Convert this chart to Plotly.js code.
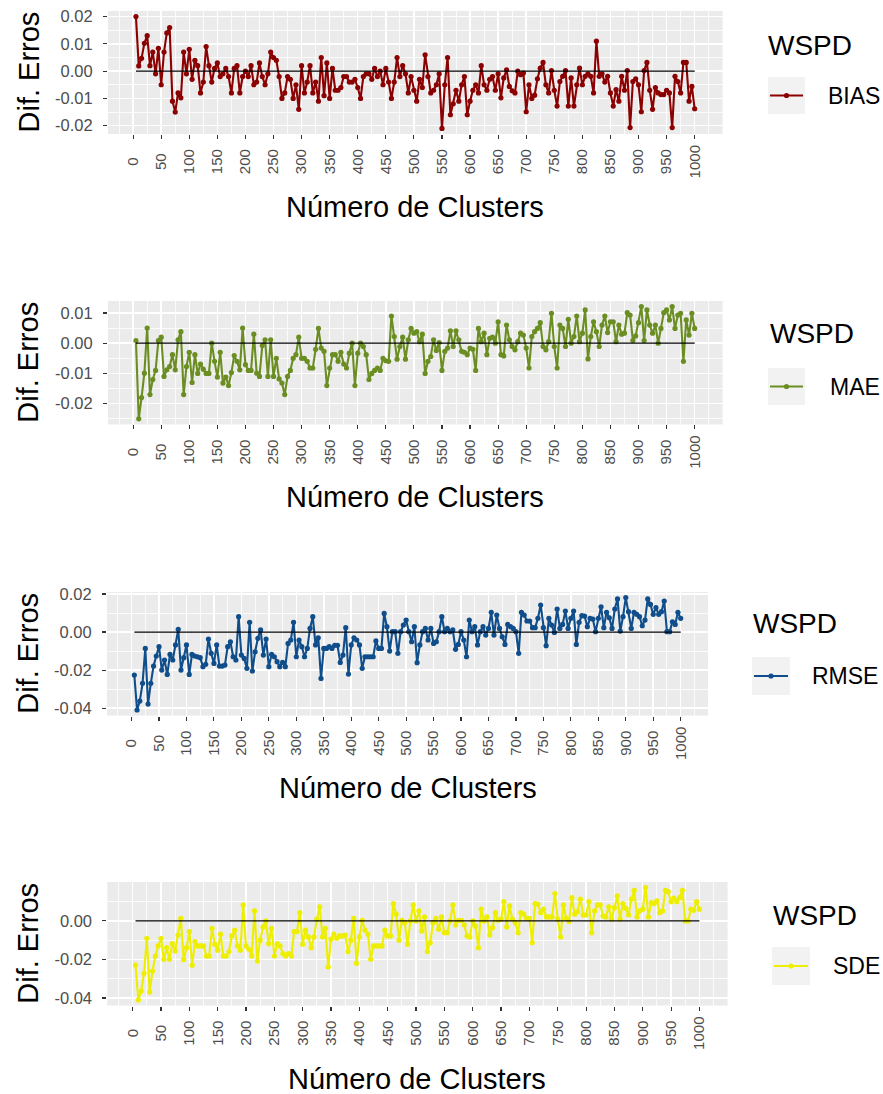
<!DOCTYPE html>
<html>
<head>
<meta charset="utf-8">
<script src="https://cdn.plot.ly/plotly-3.0.1.min.js"></script>
<style>
  html, body { margin: 0; padding: 0; background: #ffffff; }
  #chart { width: 883px; height: 1094px; }
</style>
</head>
<body>
<div id="chart"></div>
<script>
// Diferença de erros de WSPD por número de clusters (5 a 1000, passo 5)
const clusters = [];
for (let n = 5; n <= 1000; n += 5) clusters.push(n);

const bias = [
  0.020, 0.0019, 0.0047, 0.0102, 0.013, 0.002, 0.007, -0.001, 0.0084, -0.005,
  0.007, 0.014, 0.016, -0.011, -0.015, -0.008, -0.0098, 0.007, -0.001, 0.008,
  -0.003, 0.004, 0.002, -0.008, -0.004, 0.009, 0.002, -0.004, 0.001, 0.003,
  -0.002, -0.001, 0.001, -0.002, -0.008, 0.001, 0.002, -0.008, -0.002, 0.000,
  -0.002, 0.002, -0.005, -0.004, 0.003, -0.002, -0.005, -0.001, 0.007, 0.005,
  0.004, -0.002, -0.010, -0.008, -0.002, -0.003, -0.010, -0.005, -0.014, 0.002,
  -0.008, -0.004, 0.002, -0.008, -0.004, -0.011,
  0.005, -0.009, 0.003, -0.010, 0.001, -0.007, -0.007, -0.006, -0.002, -0.002,
  -0.004, -0.004, -0.003, -0.006, -0.010, -0.002, -0.001, -0.001, -0.003, 0.001,
  -0.002, 0.000, -0.005, 0.001, -0.004, -0.010, -0.004, 0.005, -0.002, 0.002,
  -0.001, -0.008, -0.002, -0.007, -0.011, -0.003, -0.006, 0.006, -0.002, -0.008,
  -0.007, -0.005, -0.001, -0.021, -0.005, 0.005, -0.016, -0.012, -0.007, -0.011,
  -0.005, -0.002, -0.016, -0.011, -0.007, -0.005, -0.008, 0.002, -0.005, -0.007,
  -0.003, -0.002, -0.007, -0.001,
  -0.0098, -0.0025, 0.0005, -0.0056, -0.0072, -0.008, 0.000, -0.0013, -0.0007, -0.0149,
  -0.005, -0.010, -0.0088, -0.0028, 0.0011, 0.0032, -0.005, -0.008, 0.0002, -0.007,
  -0.0128, -0.0038, -0.0019, 0.0002, -0.0128, -0.0025, -0.0128, -0.005, 0.0011, -0.005,
  -0.0019, -0.001, -0.0019, -0.008, 0.011, -0.0019, -0.001, -0.004, -0.0019, -0.008,
  -0.0128, -0.0068, -0.011, -0.0019, -0.007, 0.0002, -0.0207, -0.0038, -0.0028, -0.005,
  -0.0149, 0.0002, 0.0032, -0.007, -0.014, -0.006, -0.008, -0.0086, -0.0086, -0.007,
  -0.008, -0.0207, -0.0019, -0.0038, -0.008, 0.0032, 0.0032, -0.011, -0.0056, -0.0138
];

const mae = [
  0.0009, -0.025, -0.018, -0.0099, 0.005, -0.017, -0.012, -0.009, 0.0009, 0.002,
  -0.011, -0.0088, -0.0077, -0.0038, -0.0088, 0.0011, 0.0038, -0.017, -0.0077, -0.003,
  -0.013, -0.0038, -0.010, -0.0069, -0.0086, -0.010, -0.010, 0.000, -0.006, -0.0112,
  -0.003, -0.0132, -0.0112, -0.014, -0.0097, -0.0041, -0.006, -0.0088, 0.005, -0.0071,
  -0.009, -0.009, 0.003, -0.0099, -0.011, -0.0008, 0.0011, -0.011, 0.0011, -0.011,
  -0.005, -0.0118, -0.0132, -0.017, -0.011, -0.009, -0.005, -0.0038, 0.002, -0.005,
  -0.005, -0.006,
  -0.0082, -0.0082, -0.002, 0.0049, -0.0016, -0.0027, -0.014, -0.0082, -0.0038, -0.0038,
  -0.006, -0.003, -0.0069, -0.0082, -0.0033, 0.000, -0.014, -0.0033, 0.000, -0.0011,
  -0.0038, -0.012, -0.010, -0.009, -0.0082, -0.009, -0.005, -0.0058, -0.006, 0.009,
  0.0022, -0.0053, -0.0011, 0.002, -0.0053, 0.0011, 0.0049, 0.0033, 0.0038, 0.0005,
  0.003, -0.010, -0.006, -0.0044, 0.0011, -0.0024, 0.0002, -0.009, -0.0027, -0.0016,
  0.0041, -0.0011, 0.0041, 0.0011, -0.0027, -0.003, -0.0038, -0.0016, -0.002, -0.009,
  0.0049, 0.0005, 0.0033, -0.0038, 0.0016, 0.002, 0.000,
  0.0071, -0.0038, -0.0042, 0.006, 0.0011, -0.0011, -0.0022, 0.0005, 0.0033, 0.0027,
  -0.0016, -0.0082, 0.0022, 0.0038, 0.0049, 0.0068, -0.0011, -0.0022, 0.0005, 0.0099,
  -0.0011, -0.0082, 0.006, 0.0049, -0.0011, 0.0079, 0.000, 0.0022, 0.009, 0.0005,
  0.0033, 0.011, -0.0052, 0.0022, 0.0071, 0.0038, -0.0011, 0.006, 0.009, 0.0035,
  0.0071, 0.0071, 0.0005, 0.006, 0.003, 0.0033, 0.0101, 0.0093, 0.0009, 0.0024,
  0.0068, 0.0121, 0.0009, 0.011, 0.006, 0.0033, 0.006, 0.000, 0.0049, 0.0101,
  0.011, 0.0077, 0.0121, 0.0049, 0.0093, 0.0099, -0.006, 0.0077, 0.0027, 0.0099,
  0.0049
];

const rmse = [
  -0.0226, -0.041, -0.0363, -0.027, -0.0086, -0.0379, -0.027, -0.0179, -0.0126, -0.0077,
  -0.020, -0.0147, -0.0223, -0.0118, -0.0147, -0.0068, 0.0014, -0.020, -0.0135, -0.0068,
  -0.0223, -0.0118, -0.0126, -0.013, -0.0135, -0.0182, -0.017, -0.0037, -0.0112, -0.0165,
  -0.0068, -0.0179, -0.0179, -0.0174, -0.0077, -0.0051, -0.013, -0.0147, 0.0081, -0.0121,
  -0.0139, -0.0191, 0.0051, -0.0205, -0.0104, -0.0033, 0.0011, -0.0121, -0.0037, -0.0182,
  -0.0118, -0.013, -0.0156, -0.0182, -0.016, -0.0182, -0.006, -0.0042, 0.0051, -0.013,
  -0.0042, -0.0077, -0.013, -0.0086, 0.0019, 0.0081,
  -0.0068, -0.003, -0.0244, -0.0086, -0.0086, -0.0077, -0.0086, -0.007, -0.007, -0.016,
  -0.0121, 0.0023, -0.0221, -0.0068, -0.003, -0.0042, -0.0068, -0.0191, -0.013, -0.013,
  -0.013, -0.013, -0.0047, -0.0086, -0.0086, 0.0098, 0.0028, -0.010, 0.0002, 0.0002,
  -0.0112, 0.0002, 0.0037, 0.0063, 0.0002, -0.0051, 0.0028, -0.0161, -0.0068, 0.0002,
  0.0019, -0.0042, 0.0019, -0.006, -0.0051, 0.0002, 0.0081, 0.0002, 0.0019, 0.0002,
  0.0011, -0.0091, -0.0065, 0.0002, -0.0042, -0.013, 0.0063, 0.0002, 0.0028, -0.0068,
  0.0002, 0.0028, -0.0016, 0.0019, 0.0104, -0.0016, 0.0089,
  0.0019, -0.0025, -0.0065, 0.004, 0.0028, 0.0019, 0.0002, -0.0112, 0.0104, 0.0089,
  0.0058, 0.0058, 0.0023, 0.0023, 0.0072, 0.0142, 0.0023, -0.0072, 0.0072, 0.0037,
  -0.0002, 0.0121, 0.0019, 0.004, 0.011, 0.0019, 0.0072, 0.011, -0.0065, 0.0051,
  0.0086, 0.0084, 0.0028, 0.0072, 0.0068, 0.0002, 0.0072, 0.0133, 0.0023, 0.0104,
  0.0075, 0.0019, 0.0121, 0.0174, 0.0005, 0.0081, 0.0181, 0.0107, 0.0019, 0.0104,
  0.0093, 0.0081, 0.0033, 0.0063, 0.0174, 0.0145, 0.0093, 0.0128, 0.0093, 0.0107,
  0.0163, 0.0002, 0.0002, 0.0054, 0.004, 0.0104, 0.0072
];

const sde = [
  -0.0229, -0.041, -0.0364, -0.0272, -0.009, -0.0369, -0.026, -0.0182, -0.013, -0.009,
  -0.0199, -0.0139, -0.0199, -0.0118, -0.0156, -0.0073, 0.0014, -0.0201, -0.0139, -0.0055,
  -0.023, -0.0107, -0.013, -0.013, -0.013, -0.0182, -0.0182, -0.0038, -0.0121, -0.0152,
  -0.0069, -0.0182, -0.0182, -0.0159, -0.0078, -0.0048, -0.013, -0.0152, 0.0083, -0.013,
  -0.0147, -0.0182, 0.0052, -0.0208, -0.010, -0.0031, 0.000, -0.0118, -0.0038, -0.0182,
  -0.0118, -0.013, -0.017, -0.0182, -0.017, -0.0182, -0.0055, -0.0055, 0.0043, -0.0121,
  -0.0048, -0.0083,
  -0.0139, -0.0083, 0.0009, 0.0073, -0.0083, -0.0038, -0.0239, -0.0095, -0.0069, -0.009,
  -0.0078, -0.0078, -0.0073, -0.0159, -0.010, 0.0014, -0.022, -0.0083, 0.0003, -0.0048,
  -0.0069, -0.0199, -0.013, -0.013, -0.013, -0.013, -0.0048, -0.0078, -0.0078, 0.009,
  0.0035, -0.010, 0.0003, -0.0009, -0.0121, 0.000, 0.0083, 0.000, 0.0052, -0.0052,
  0.0021, -0.0159, -0.0113, -0.0009, 0.0014, -0.0043, 0.0021, -0.0061, -0.0061, 0.000,
  0.0083, -0.0021, 0.0003, 0.0003, -0.0021, -0.0078, -0.0083, 0.000, -0.0026, -0.0139,
  0.0061, 0.000, 0.0021, -0.0073, -0.0035, 0.0043, 0.0003,
  0.0009, 0.01, -0.0031, 0.0078, 0.0009, -0.0009, -0.0061, 0.0043, 0.0035, 0.0014,
  0.0014, -0.0113, 0.009, 0.0087, 0.0043, 0.0061, 0.0021, 0.0021, 0.0021, 0.0142,
  0.0009, -0.0083, 0.0083, 0.0014, -0.0003, 0.0121, 0.0035, 0.0048, 0.0113, 0.0031,
  0.0031, 0.01, -0.0061, 0.0052, 0.0083, 0.0083, 0.0026, 0.0021, 0.0073, 0.0009,
  0.0069, 0.013, 0.0009, 0.009, 0.0066, 0.0031, 0.0113, 0.0159, 0.0021, 0.0052,
  0.0061, 0.0173, 0.0021, 0.0095, 0.009, 0.0104, 0.0043, 0.0052, 0.0159, 0.0152,
  0.01, 0.0118, 0.01, 0.0121, 0.0159, 0.000, 0.000, 0.0061, 0.0055, 0.01,
  0.0061
];

const seriesNames = ['BIAS', 'MAE', 'RMSE', 'SDE'];
const seriesData = [bias, mae, rmse, sde];
const seriesColors = ['#8B0000', '#6B8E23', '#104E8B', '#EEEE00'];

const legendTitle = 'WSPD';
const xTitle = 'Número de Clusters';
const yTitle = 'Dif. Erros';

const xTickVals = [0, 50, 100, 150, 200, 250, 300, 350, 400, 450, 500,
                   550, 600, 650, 700, 750, 800, 850, 900, 950, 1000];
const xTickText = ['0', '50', '100', '150', '200', '250', '300', '350', '400', '450', '500',
                   '550', '600', '650', '700', '750', '800', '850', '900', '950', '1000'];

const yTickVals = [
  [-0.02, -0.01, 0, 0.01, 0.02],
  [-0.02, -0.01, 0, 0.01],
  [-0.04, -0.02, 0, 0.02],
  [-0.04, -0.02, 0]
];
const yTickText = [
  ['-0.02', '-0.01', '0.00', '0.01', '0.02'],
  ['-0.02', '-0.01', '0.00', '0.01'],
  ['-0.04', '-0.02', '0.00', '0.02'],
  ['-0.04', '-0.02', '0.00']
];

// ---- layout geometry (pixels) ----
const W = 883, H = 1094;
const FONT = 'Liberation Sans, Arial, Helvetica, sans-serif';
const panels = [
  { left: 108, right: 722.6, top: 11,  bottom: 134,   xTitleY: 207,
    lg: { titleX: 766, titleY: 45,  keyX: 768, keyY: 77,  key: 37, labelX: 826 } },
  { left: 108, right: 722.6, top: 301, bottom: 424.4, xTitleY: 497,
    lg: { titleX: 768, titleY: 333, keyX: 768, keyY: 368, key: 37, labelX: 828 } },
  { left: 107, right: 708,   top: 592, bottom: 715.6, xTitleY: 788,
    lg: { titleX: 751, titleY: 624, keyX: 752, keyY: 657, key: 38, labelX: 810 } },
  { left: 107.3, right: 727.6, top: 882, bottom: 1005.5, xTitleY: 1079,
    lg: { titleX: 771, titleY: 915, keyX: 772, keyY: 947, key: 38, labelX: 831 } }
];
const px = x => x / W;
const py = y => 1 - y / H;

// ggplot-style 5% expansion of the data range
function expand(lo, hi) { const d = (hi - lo) * 0.05; return [lo - d, hi + d]; }
// minor breaks halfway between major breaks, extended one step past each end
function minorBreaks(major, range) {
  const step = major[1] - major[0];
  const out = [];
  for (let v = major[0] - step / 2; v <= major[major.length - 1] + step; v += step) {
    if (v >= range[0] && v <= range[1]) out.push(+v.toFixed(6));
  }
  return out;
}
// rotated labels are centred on the longest label by padding with no-break spaces
const longest = Math.max(...xTickText.map(s => s.length));
const xTickCentered = xTickText.map(s => s + '\u00a0'.repeat(longest - s.length));

const xRange = expand(clusters[0], clusters[clusters.length - 1]);
const xMinor = minorBreaks(xTickVals, xRange);

const traces = [];
const layout = {
  width: W, height: H,
  margin: { l: 0, r: 0, t: 0, b: 0 },
  paper_bgcolor: '#FFFFFF',
  plot_bgcolor: '#EBEBEB',
  showlegend: false,
  font: { family: FONT, color: '#000000' },
  annotations: [],
  shapes: []
};

const xTickFont = { family: FONT, size: 15, color: '#4D4D4D' };
const yTickFont = { family: FONT, size: 16.5, color: '#4D4D4D' };

seriesData.forEach((vals, i) => {
  const p = panels[i];
  const xa = 'x' + (i ? i + 1 : ''), ya = 'y' + (i ? i + 1 : '');
  const xKey = 'xaxis' + (i ? i + 1 : ''), yKey = 'yaxis' + (i ? i + 1 : '');

  traces.push({
    x: clusters, y: vals, xaxis: xa, yaxis: ya,
    type: 'scatter', mode: 'lines+markers', name: seriesNames[i],
    line: { color: seriesColors[i], width: 2.1 },
    marker: { color: seriesColors[i], size: 5.2 },
    hoverinfo: 'x+y'
  });
  // reference line at zero across the cluster range
  traces.push({
    x: [clusters[0], clusters[clusters.length - 1]], y: [0, 0],
    xaxis: xa, yaxis: ya, type: 'scatter', mode: 'lines',
    line: { color: '#000000', width: 1.2 }, hoverinfo: 'skip'
  });

  const yRange = expand(Math.min(...vals), Math.max(...vals));
  const yMinor = minorBreaks(yTickVals[i], yRange);

  layout[xKey] = {
    domain: [px(p.left), px(p.right)], anchor: ya, range: xRange,
    tickmode: 'array', tickvals: xTickVals, ticktext: xTickCentered,
    tickangle: -90, tickfont: xTickFont,
    ticks: 'outside', ticklen: 4, tickwidth: 1.1, tickcolor: '#333333',
    showgrid: true, gridcolor: '#FFFFFF', gridwidth: 1.5,
    minor: { tickmode: 'array', tickvals: xMinor, showgrid: true,
             gridcolor: '#FFFFFF', gridwidth: 0.8, ticks: '' },
    zeroline: false, showline: false, automargin: false, fixedrange: true
  };
  layout[yKey] = {
    domain: [py(p.bottom), py(p.top)], anchor: xa, range: yRange,
    tickmode: 'array', tickvals: yTickVals[i], ticktext: yTickText[i],
    tickfont: yTickFont, ticklabelstandoff: 7,
    ticks: 'outside', ticklen: 4, tickwidth: 1.1, tickcolor: '#333333',
    showgrid: true, gridcolor: '#FFFFFF', gridwidth: 1.5,
    minor: { tickmode: 'array', tickvals: yMinor, showgrid: true,
             gridcolor: '#FFFFFF', gridwidth: 0.8, ticks: '' },
    zeroline: false, showline: false, automargin: false, fixedrange: true
  };

  // axis titles
  layout.annotations.push({
    text: xTitle, xref: 'paper', yref: 'paper',
    x: px((p.left + p.right) / 2), y: py(p.xTitleY),
    xanchor: 'center', yanchor: 'middle', showarrow: false,
    font: { family: FONT, size: 29, color: '#000000' }
  });
  layout.annotations.push({
    text: yTitle, xref: 'paper', yref: 'paper', textangle: -90,
    x: px(28), y: py((p.top + p.bottom) / 2),
    xanchor: 'center', yanchor: 'middle', showarrow: false,
    font: { family: FONT, size: 29, color: '#000000' }
  });

  // legend: title, grey key with line and point, label
  const lg = p.lg;
  layout.annotations.push({
    text: legendTitle, xref: 'paper', yref: 'paper',
    x: px(lg.titleX), y: py(lg.titleY), xanchor: 'left', yanchor: 'middle',
    showarrow: false, font: { family: FONT, size: 28, color: '#000000' }
  });
  layout.shapes.push({
    type: 'rect', xref: 'paper', yref: 'paper',
    x0: px(lg.keyX), x1: px(lg.keyX + lg.key), y0: py(lg.keyY + lg.key), y1: py(lg.keyY),
    fillcolor: '#F2F2F2', line: { width: 0 }, layer: 'below'
  });
  const cy = lg.keyY + lg.key / 2, cx = lg.keyX + lg.key / 2;
  layout.shapes.push({
    type: 'line', xref: 'paper', yref: 'paper',
    x0: px(lg.keyX + 2), x1: px(lg.keyX + lg.key - 2), y0: py(cy), y1: py(cy),
    line: { color: seriesColors[i], width: 2.2 }
  });
  layout.shapes.push({
    type: 'circle', xref: 'paper', yref: 'paper',
    x0: px(cx - 2.6), x1: px(cx + 2.6), y0: py(cy + 2.6), y1: py(cy - 2.6),
    fillcolor: seriesColors[i], line: { width: 0 }
  });
  layout.annotations.push({
    text: seriesNames[i], xref: 'paper', yref: 'paper',
    x: px(lg.labelX), y: py(cy), xanchor: 'left', yanchor: 'middle',
    showarrow: false, font: { family: FONT, size: 23, color: '#000000' }
  });
});

Plotly.newPlot('chart', traces, layout, { staticPlot: true, displayModeBar: false });
</script>
</body>
</html>
